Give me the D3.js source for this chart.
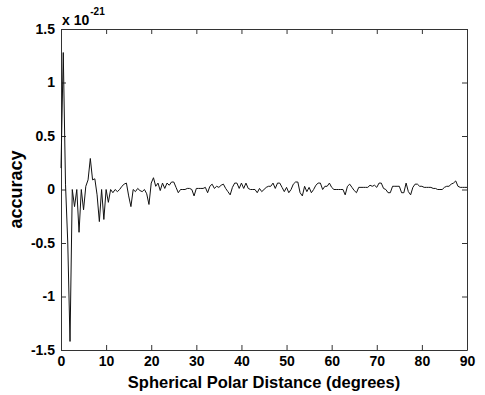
<!DOCTYPE html>
<html>
<head>
<meta charset="utf-8">
<script src="https://cdn.jsdelivr.net/npm/d3@7"></script>
<style>
  body { margin: 0; background: #fff; }
  text { font-family: "Liberation Sans", Arial, sans-serif; font-weight: bold; fill: #000; }
</style>
</head>
<body>
<div id="chart"></div>
<script>
// accuracy samples every 0.5 degree, in units of 1e-21
const step = 0.5;
const accuracy = [
  0.2, 1.28, 0.05, -0.5, -1.42, 0.0, -0.16, 0.0, -0.4, 0.0,
  -0.19, 0.03, 0.09, 0.29, 0.09, 0.1, -0.05, -0.3, 0.0, -0.28,
  0.0, -0.12, 0.0, -0.03, 0.0, -0.02, 0.0, 0.03, 0.05, 0.06,
  -0.06, -0.16, 0.0, -0.02, 0.01, -0.01, -0.02, 0.0, -0.04, -0.14,
  0.06, 0.11, 0.03, 0.06, -0.01, 0.06, 0.01, 0.06, 0.04, 0.07,
  0.07, 0.02, -0.03, 0.0, 0.0, 0.0, 0.01, 0.01, 0.0, -0.06,
  0.01, 0.01, 0.01, 0.01, 0.02, -0.03, 0.03, 0.05, 0.01, 0.03,
  0.02, 0.04, 0.05, 0.01, -0.02, -0.05, 0.02, 0.06, 0.06, 0.01,
  0.06, 0.01, 0.06, 0.01, 0.0, 0.0, 0.0, -0.03, 0.01, -0.02,
  0.0, 0.02, 0.03, 0.03, 0.06, 0.01, 0.06, 0.06, 0.02, -0.02,
  0.02, -0.03, 0.0, 0.05, 0.07, 0.07, -0.03, -0.06, 0.03, -0.02,
  0.02, -0.03, 0.0, 0.04, 0.06, 0.06, 0.0, 0.03, 0.03, 0.06,
  0.02, 0.0, 0.0, 0.0, 0.0, 0.0, -0.05, 0.03, 0.05, 0.02,
  -0.01, -0.03, 0.02, 0.02, 0.02, 0.02, 0.02, 0.04, 0.03, 0.04,
  0.02, 0.06, 0.06, 0.01, 0.0, -0.03, -0.03, 0.03, 0.03, 0.03,
  0.03, -0.03, -0.03, 0.06, -0.02, -0.05, 0.02, 0.05, 0.05, 0.03,
  0.03, 0.02, 0.02, 0.02, 0.02, 0.01, 0.01, 0.0, 0.0, 0.0,
  0.02, 0.03, 0.03, 0.05, 0.06, 0.08, 0.03, 0.02, 0.02, 0.02,
  0.02
];
const xTicks = [0, 10, 20, 30, 40, 50, 60, 70, 80, 90];
const yTicks = [-1.5, -1, -0.5, 0, 0.5, 1, 1.5];

const W = 485, H = 395;
const margin = { top: 29, right: 18, bottom: 45, left: 61 };
const width = W - margin.left - margin.right;
const height = H - margin.top - margin.bottom;

const svg = d3.select('#chart').append('svg')
  .attr('width', W).attr('height', H)
  .append('g').attr('transform', 'translate(' + margin.left + ',' + margin.top + ')');

const scaleX = d3.scaleLinear().domain([0, 90]).range([0, width]);
const scaleY = d3.scaleLinear().domain([-1.5, 1.5]).range([height, 0]);

// box with inward ticks on all sides
const tickLen = 5;
svg.append('g')
  .attr('transform', 'translate(0,' + height + ')')
  .call(d3.axisBottom(scaleX).tickValues(xTicks).tickSizeInner(-tickLen).tickSizeOuter(0).tickPadding(8))
  .call(g => g.selectAll('text').attr('font-size', 14).attr('dy', '0.6em'));
svg.append('g')
  .call(d3.axisTop(scaleX).tickValues(xTicks).tickSizeInner(-tickLen).tickSizeOuter(0).tickFormat(''));
svg.append('g')
  .call(d3.axisLeft(scaleY).tickValues(yTicks).tickSizeInner(-tickLen).tickSizeOuter(0).tickPadding(8).tickFormat(d => String(d)))
  .call(g => g.selectAll('text').attr('font-size', 14).attr('x', -6));
svg.append('g')
  .attr('transform', 'translate(' + width + ',0)')
  .call(d3.axisRight(scaleY).tickValues(yTicks).tickSizeInner(-tickLen).tickSizeOuter(0).tickFormat(''));

svg.selectAll('.domain').attr('stroke', '#333');
svg.selectAll('.tick line').attr('stroke', '#333');
svg.selectAll('.tick text').attr('font-family', '"Liberation Sans", Arial, sans-serif').attr('font-weight', 'bold');

const line = d3.line()
  .x((d, i) => scaleX(i * step))
  .y(d => scaleY(d));

svg.append('path')
  .datum(accuracy)
  .attr('fill', 'none')
  .attr('stroke', '#111')
  .attr('stroke-width', 1)
  .attr('d', line);

// exponent label
const expo = svg.append('text').attr('x', 1).attr('y', -4).attr('font-size', 14);
expo.append('tspan').text('x 10');
expo.append('tspan').attr('font-size', 10).attr('dy', -10).attr('dx', 1).text('-21');

svg.append('text')
  .attr('x', width / 2).attr('y', height + 38)
  .attr('text-anchor', 'middle').attr('font-size', 16.5)
  .text('Spherical Polar Distance (degrees)');

svg.append('text')
  .attr('transform', 'translate(' + (-39) + ',' + (height / 2) + ') rotate(-90)')
  .attr('text-anchor', 'middle').attr('font-size', 18)
  .text('accuracy');
</script>
</body>
</html>
